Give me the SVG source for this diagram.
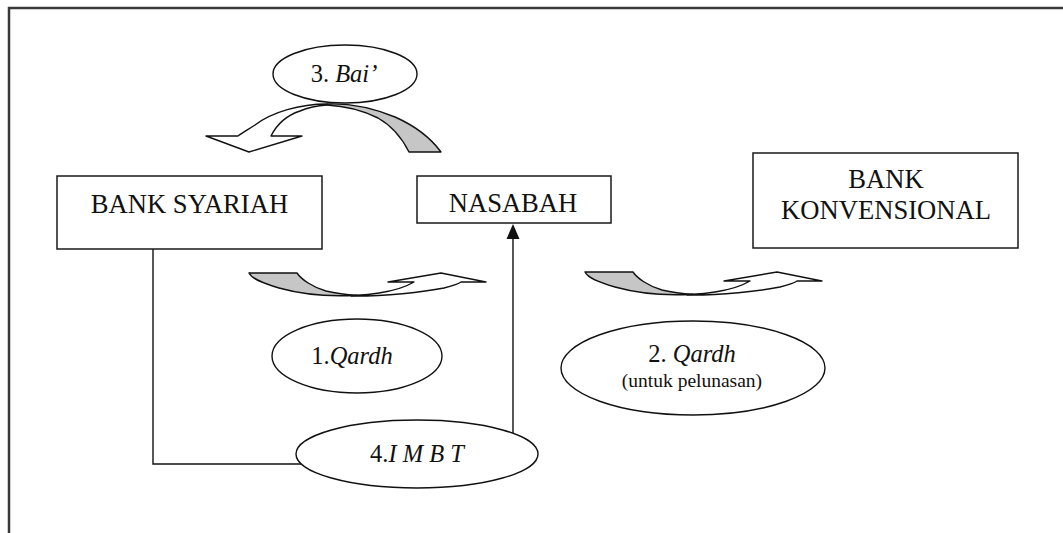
<svg xmlns="http://www.w3.org/2000/svg" width="1063" height="533" viewBox="0 0 1063 533">
<style>
  .box{fill:none;stroke:#1a1a1a;stroke-width:1.5}
  .ell{fill:none;stroke:#111;stroke-width:1.4}
  .ln{fill:none;stroke:#111;stroke-width:1.4}
  text{font-family:'Liberation Serif','DejaVu Serif',serif;fill:#111;text-anchor:middle}
  .bt{font-size:26.6px}
  .lt{font-size:24.5px}
  .st{font-size:19.5px}
  .it{font-style:italic}
  .front{fill:#fff;stroke:#111;stroke-width:1.4;stroke-linejoin:round}
  .back{fill:#c6c6c6;stroke:#111;stroke-width:1.4;stroke-linejoin:round}
</style>
<defs>
  <g id="upArrow">
    <path class="back" d="M585,272 L633,272 C637,278 648,286 662,290 C672,292.5 682,293.8 693,294.2 C670,295.5 640,294 615,287 C598,282 588,278 585,272 Z"/>
    <path class="front" d="M687,295 C720,295.5 760,291 780,287 C788,285 794,283 797,281 L822,281 L777,272 L724,281 L750,281 C740,287 728,290 715,292 C706,293.5 699,294 693,294.2 Z"/>
  </g>
</defs>

<g id="frame">
  <path d="M9,533 L9,8 L1063,8" fill="none" stroke="#3a3a3a" stroke-width="2.5"/>
</g>

<g id="connectors">
  <path class="ln" d="M153,249 L153,464 L301,464"/>
  <path class="ln" d="M513,433 L513,238"/>
  <polygon points="513,224 506.5,239 519.5,239" fill="#111"/>
  <g id="arrow-bai">
    <path class="back" d="M327,104 C350,103 373,108 395,117 C413,125 430,137 441,152 L409,152 C402,138 392,126 378,118 C362,110 345,106 327,105 Z"/>
    <path class="front" d="M327,104 C300,104 272,112 255,125 C249,129 242,133 238,136 L206,136 L249,152 L302,136 L271,136 C276,126 285,116 300,111 C309,107 318,105.5 327,105 Z"/>
  </g>
  <use href="#upArrow" transform="translate(-336,1)"/>
  <use href="#upArrow"/>
</g>

<g id="bank-syariah">
  <rect class="box" x="57" y="176" width="265" height="73"/>
  <text class="bt" x="189.5" y="213">BANK SYARIAH</text>
</g>
<g id="nasabah">
  <rect class="box" x="417" y="176" width="194" height="47"/>
  <text class="bt" x="513" y="212">NASABAH</text>
</g>
<g id="bank-konvensional">
  <rect class="box" x="753" y="153" width="265" height="95"/>
  <text class="bt" x="886" y="188">BANK</text>
  <text class="bt" x="886" y="219">KONVENSIONAL</text>
</g>

<g id="label-bai">
  <ellipse class="ell" cx="345" cy="74" rx="72" ry="29"/>
  <text class="lt" x="344" y="82">3. <tspan class="it">Bai’</tspan></text>
</g>
<g id="label-qardh1">
  <ellipse class="ell" cx="357" cy="356" rx="85" ry="37"/>
  <text class="lt" x="352" y="364">1.<tspan class="it">Qardh</tspan></text>
</g>
<g id="label-qardh2">
  <ellipse class="ell" cx="693" cy="368" rx="132" ry="47"/>
  <text class="lt" x="692" y="362">2. <tspan class="it">Qardh</tspan></text>
  <text class="st" x="692" y="387">(untuk pelunasan)</text>
</g>
<g id="label-imbt">
  <ellipse class="ell" cx="417" cy="454" rx="121" ry="34"/>
  <text class="lt" x="417" y="462">4.<tspan class="it">I M B T</tspan></text>
</g>
</svg>
